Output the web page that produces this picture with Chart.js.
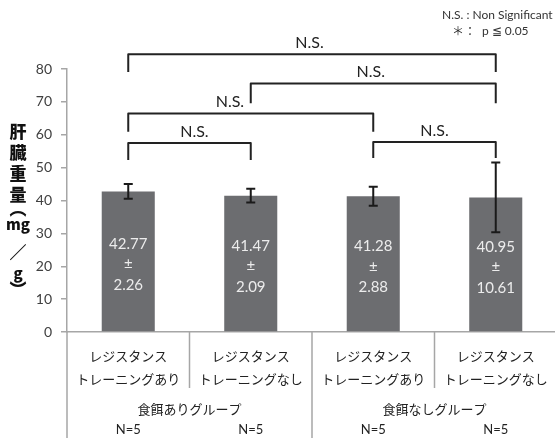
<!DOCTYPE html>
<html>
<head>
<meta charset="utf-8">
<script src="https://cdn.jsdelivr.net/npm/chart.js@4"></script>
<style>
  html, body { margin: 0; padding: 0; overflow: hidden; background: #fff; }
</style>
</head>
<body>
<canvas id="chart" width="560" height="438"></canvas>
<script>
const labels = [
  ['レジスタンス', 'トレーニングあり'],
  ['レジスタンス', 'トレーニングなし'],
  ['レジスタンス', 'トレーニングあり'],
  ['レジスタンス', 'トレーニングなし']
];
const means = [42.77, 41.47, 41.28, 40.95];
const sds = [2.26, 2.09, 2.88, 10.61];
const sampleSizes = ['N=5', 'N=5', 'N=5', 'N=5'];
const groups = ['食餌ありグループ', '食餌なしグループ'];
const yTitle = ['肝', '臓', '重', '量', '︵', 'mg', '／', 'g', '︶'];

// significance brackets (category index, y value)
const bracketFrom = [0, 0, 2, 1, 0];
const bracketTo = [1, 2, 3, 3, 3];
const bracketTop = [57.5, 66.5, 57.8, 75.6, 84.5];
const bracketLeg = [52.3, 60.9, 52.9, 69.6, 79.1];
const bracketText = ['N.S.', 'N.S.', 'N.S.', 'N.S.', 'N.S.'];
const bracketLabelAt = [0.54, 0.83, 2.5, 1.98, 1.48];

const legendNS = 'N.S. : Non Significant';
const legendStar = ['＊：', 'p ≦ 0.05'];

const JP = "'Noto Sans CJK JP', sans-serif";
const NUM = "Lato, 'Liberation Sans', sans-serif";
const AXIS = '#a6a6a6';

const decor = {
  id: 'decor',
  afterDatasetsDraw(chart) {
    const { ctx } = chart;
    const x = chart.scales.x, y = chart.scales.y;
    const bars = chart.getDatasetMeta(0).data;
    ctx.save();

    // error bars
    ctx.strokeStyle = '#1a1a1a';
    ctx.lineWidth = 2;
    means.forEach((m, i) => {
      const cx = bars[i].x;
      const top = y.getPixelForValue(m + sds[i]);
      const bot = y.getPixelForValue(m - sds[i]);
      ctx.beginPath();
      ctx.moveTo(cx, top); ctx.lineTo(cx, bot);
      ctx.moveTo(cx - 4.5, top); ctx.lineTo(cx + 4.5, top);
      ctx.moveTo(cx - 4.5, bot); ctx.lineTo(cx + 4.5, bot);
      ctx.stroke();
    });

    // values inside bars
    ctx.fillStyle = '#ececec';
    ctx.font = '15px ' + NUM;
    ctx.textAlign = 'center';
    ctx.textBaseline = 'middle';
    means.forEach((m, i) => {
      const b = bars[i];
      const mid = (b.y + b.base) / 2 + 3;
      ctx.fillText(m.toFixed(2), b.x, mid - 20.5);
      ctx.fillText('±', b.x, mid);
      ctx.fillText(sds[i].toFixed(2), b.x, mid + 20.5);
    });

    // brackets
    ctx.strokeStyle = '#222';
    ctx.lineWidth = 2;
    ctx.lineJoin = 'round';
    ctx.fillStyle = '#222';
    ctx.font = '16px ' + NUM;
    ctx.textBaseline = 'alphabetic';
    bracketFrom.forEach((f, i) => {
      const x1 = x.getPixelForValue(f);
      const x2 = x.getPixelForValue(bracketTo[i]);
      const yt = y.getPixelForValue(bracketTop[i]);
      const yl = y.getPixelForValue(bracketLeg[i]);
      ctx.beginPath();
      ctx.moveTo(x1, yl); ctx.lineTo(x1, yt); ctx.lineTo(x2, yt); ctx.lineTo(x2, yl);
      ctx.stroke();
      ctx.fillText(bracketText[i], x.getPixelForValue(bracketLabelAt[i]), yt - 6);
    });
    ctx.restore();
  },
  afterDraw(chart) {
    const { ctx, chartArea } = chart;
    const x = chart.scales.x;
    const half = (x.getPixelForValue(1) - x.getPixelForValue(0)) / 2;
    ctx.save();

    // category dividers below the axis
    ctx.strokeStyle = AXIS;
    ctx.lineWidth = 1.5;
    for (let i = 0; i <= labels.length; i++) {
      const px = x.getPixelForValue(i) - half;
      ctx.beginPath();
      ctx.moveTo(px, chartArea.bottom);
      ctx.lineTo(px, i % 2 === 0 ? 438 : 388);
      ctx.stroke();
    }

    // group names and sample sizes
    ctx.fillStyle = '#222';
    ctx.textAlign = 'center';
    ctx.textBaseline = 'middle';
    ctx.font = '13px ' + JP;
    groups.forEach((g, k) => {
      const gx = (x.getPixelForValue(2 * k) + x.getPixelForValue(2 * k + 1)) / 2;
      ctx.fillText(g, gx, 409);
    });
    ctx.font = '13px ' + NUM;
    sampleSizes.forEach((n, i) => ctx.fillText(n, x.getPixelForValue(i), 430));

    // vertical y-axis title
    const ty = [132, 153, 174, 195, 209, 224, 253, 273, 290];
    ctx.fillStyle = '#111';
    yTitle.forEach((c, i) => {
      ctx.font = (c === 'mg' || c === 'g' ? '900 15px ' : '900 17px ') + JP;
      ctx.fillText(c, 18, ty[i]);
    });

    // legend note
    ctx.textAlign = 'left';
    ctx.fillStyle = '#333';
    ctx.font = '12px ' + NUM;
    ctx.fillText(legendNS, 442, 15);
    ctx.font = '12px ' + JP;
    ctx.fillText(legendStar[0], 452, 31);
    ctx.font = '12px ' + NUM;
    ctx.fillText(legendStar[1], 482, 31);
    ctx.restore();
  }
};

new Chart(document.getElementById('chart'), {
  type: 'bar',
  data: {
    labels: labels,
    datasets: [{
      data: means,
      backgroundColor: '#6c6d70',
      borderWidth: 0,
      categoryPercentage: 1,
      barPercentage: 0.433
    }]
  },
  options: {
    responsive: false,
    animation: false,
    layout: { padding: { top: 69, right: 3, left: 0, bottom: 0 } },
    plugins: { legend: { display: false }, tooltip: { enabled: false } },
    scales: {
      x: {
        grid: { display: false },
        border: { color: AXIS, width: 1.5 },
        ticks: {
          color: '#222',
          padding: 4.5,
          maxRotation: 0,
          autoSkip: false,
          font: { family: JP, size: 13, lineHeight: '23px' }
        },
        afterFit(s) { s.height = 106; }
      },
      y: {
        min: 0,
        max: 80,
        grid: { drawOnChartArea: false, tickLength: 6, color: AXIS, lineWidth: 1.5 },
        border: { color: AXIS, width: 1.5 },
        ticks: {
          stepSize: 10,
          color: '#404040',
          padding: 9,
          font: { family: NUM, size: 14 }
        },
        afterFit(s) { s.width = 67; }
      }
    }
  },
  plugins: [decor]
});
</script>
</body>
</html>
